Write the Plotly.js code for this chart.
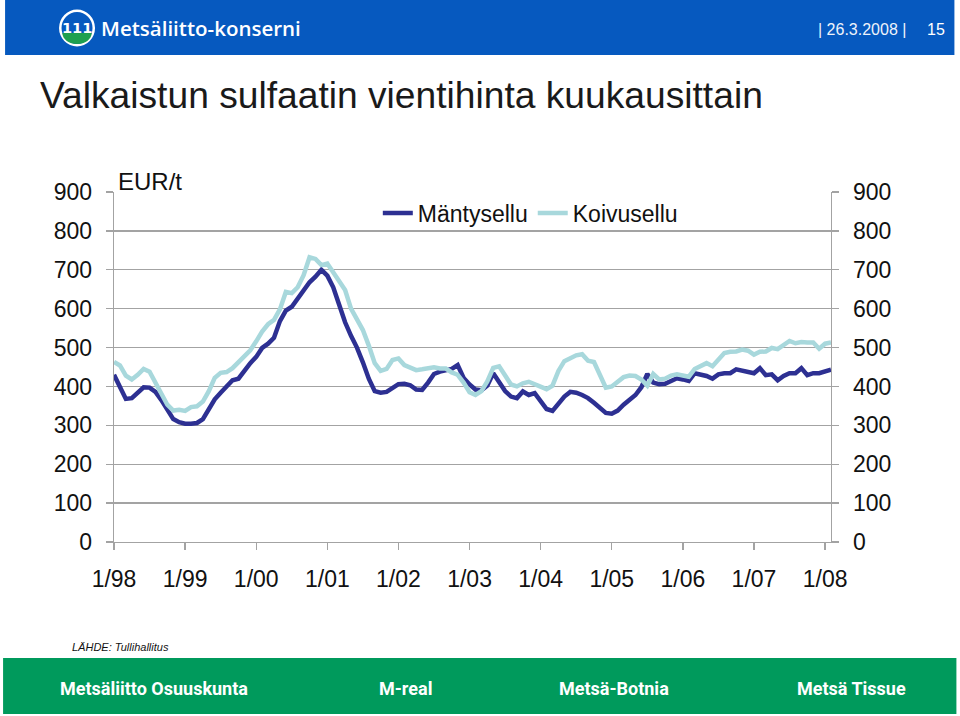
<!DOCTYPE html>
<html><head><meta charset="utf-8">
<script src="https://cdn.plot.ly/plotly-3.0.1.min.js"></script>
<style>html,body{margin:0;padding:0;background:#fff;} #chart{width:960px;height:716px;}</style>
</head><body><div id="chart"></div>
<script>
// Monthly export price, EUR/t, 1/1998 .. 2/2008
const mantysellu = [
 430,400,368,370,385,398,397,386,365,338,316,308,
 304,304,306,316,342,367,384,400,416,420,441,460,
 476,499,510,525,568,595,605,625,645,668,682,700,
 685,655,610,565,530,500,462,420,388,384,386,395,
 406,407,403,392,391,410,432,438,441,445,455,422,
 405,392,390,402,434,412,388,374,370,387,378,383,
 363,342,337,354,374,386,384,378,370,358,343,332,
 330,338,353,364,378,398,432,410,406,407,414,421,
 418,414,434,431,427,420,431,434,434,444,441,437,
 434,447,429,431,416,427,434,434,447,429,434,434,
 440,443];
const koivusellu = [
 463,454,428,418,430,445,438,411,381,353,338,340,
 337,347,349,361,388,422,435,437,447,462,476,493,
 516,541,560,571,598,643,640,655,686,732,728,712,
 716,693,672,648,600,573,545,505,460,440,445,468,
 472,455,447,442,444,447,449,446,446,436,430,410,
 385,378,388,413,448,452,428,405,400,408,412,405,
 398,393,402,440,465,472,480,483,466,463,430,397,
 400,412,424,428,427,418,402,432,418,420,428,431,
 428,425,445,453,460,452,470,486,489,490,495,492,
 482,489,490,499,496,505,517,511,514,513,513,497,
 510,513];
const yearCodes = ['98','99','00','01','02','03','04','05','06','07','08'];
const tickLabels = ['1/98','1/99','1/00','1/01','1/02','1/03','1/04','1/05','1/06','1/07','1/08'];
const seriesNames = ['Mäntysellu','Koivusellu'];
const footerNames = ['Metsäliitto Osuuskunta','M-real','Metsä-Botnia','Metsä Tissue'];

const months = [];
for (const yy of yearCodes) for (let m = 1; m <= 12; m++) if (months.length < mantysellu.length) months.push(m + '/' + yy);

// layout geometry (pixels)
const L = 114, R = 831.5, T = 192, B = 542, FW = 960, FH = 716;
const PX = x => (x - L) / (R - L);
const PY = y => (B - y) / (B - T);
const FONT = 'Liberation Sans, Arial, sans-serif';
const AXC = '#a3a3a3';
const FS = 23;

const traces = [
  {x: months, y: mantysellu, name: seriesNames[0], type: 'scatter', mode: 'lines',
   line: {color: '#2D3092', width: 4.5}, legendrank: 1, hoverinfo: 'skip'},
  {x: months, y: koivusellu, name: seriesNames[1], type: 'scatter', mode: 'lines',
   line: {color: '#A8D8DC', width: 4.5}, legendrank: 2, hoverinfo: 'skip'},
  {x: [], y: [], yaxis: 'y2', showlegend: false, hoverinfo: 'skip', type: 'scatter'}
];

function ann(text, x, y, size, opts) {
  return Object.assign({text: text, x: PX(x), y: PY(y), xref: 'paper', yref: 'paper',
    showarrow: false, xanchor: 'left', yanchor: 'middle',
    font: {size: size, family: FONT, color: '#111'}}, opts || {});
}

const annotations = [
  ann('Metsäliitto-konserni', 99, 28, 20, {font: {size: 20.5, family: 'Open Sans, sans-serif', color: '#fff', weight: 600}}),
  ann('111', 77, 28, 14, {xanchor: 'center', font: {size: 14.5, family: 'DejaVu Sans, sans-serif', color: '#fff', weight: 'bold'}}),
  ann('|\u00a026.3.2008\u00a0|', 863, 29, 16, {xanchor: 'center', font: {size: 16, family: FONT, color: '#eef3fb'}}),
  ann('15', 937, 29, 16, {xanchor: 'center', font: {size: 16, family: FONT, color: '#fff'}}),
  ann('EUR/t', 116, 181, 24),
  ann('<i>LÄHDE: Tullihallitus</i>', 70, 647, 11),
];
const footerX = [154, 406, 614, 852];
footerNames.forEach((n, i) => annotations.push(ann(n, footerX[i], 688, 17,
  {xanchor: 'center', font: {size: 18, family: 'Roboto, sans-serif', color: '#fff', weight: 'bold'}})));

const shapes = [
  {type: 'rect', xref: 'paper', yref: 'paper', x0: PX(5), x1: PX(955), y0: PY(55), y1: PY(0), fillcolor: '#0659BF', line: {width: 0}, layer: 'below'},
  {type: 'rect', xref: 'paper', yref: 'paper', x0: PX(3), x1: PX(957), y0: PY(714), y1: PY(658), fillcolor: '#009A5C', line: {width: 0}, layer: 'below'},
  {type: 'circle', xref: 'paper', yref: 'paper', x0: PX(59), x1: PX(95), y0: PY(46.5), y1: PY(9.5), fillcolor: '#ffffff', line: {width: 0}, layer: 'below'},
  {type: 'circle', xref: 'paper', yref: 'paper', x0: PX(61.5), x1: PX(92.5), y0: PY(44), y1: PY(12), fillcolor: '#0659BF', line: {width: 0}, layer: 'below'},
  {type: 'path', xref: 'paper', yref: 'paper', layer: 'below', fillcolor: '#1FA050', line: {width: 0},
   path: `M ${PX(62.3)},${PY(33)} L ${PX(91.7)},${PY(33)} C ${PX(91.5)},${PY(39.5)} ${PX(85)},${PY(44)} ${PX(77)},${PY(44)} C ${PX(69)},${PY(44)} ${PX(62.5)},${PY(39.5)} ${PX(62.3)},${PY(33)} Z`}
];

const axisCommon = {range: [0, 900], dtick: 100, tick0: 0, showline: true, linecolor: AXC, linewidth: 1.3,
  ticks: 'outside', ticklen: 7, tickcolor: AXC, tickwidth: 1.3, zeroline: false,
  tickfont: {size: FS, family: FONT, color: '#111'}, fixedrange: true};

const layout = {
  width: FW, height: FH,
  margin: {l: L, r: FW - R, t: T, b: FH - B, pad: 0},
  paper_bgcolor: '#fff', plot_bgcolor: '#fff',
  title: {text: 'Valkaistun sulfaatin vientihinta kuukausittain', xref: 'container', yref: 'container',
    x: 40 / FW, xanchor: 'left', y: 1 - 95 / FH, yanchor: 'middle',
    font: {size: 37.2, family: FONT, color: '#1a1a1a'}},
  xaxis: {type: 'category', range: [0, months.length - 1], tickmode: 'array', tickvals: tickLabels, ticktext: tickLabels,
    ticks: 'outside', ticklen: 7, tickcolor: AXC, tickwidth: 1.3, showline: true, linecolor: AXC, linewidth: 1.3,
    showgrid: false, zeroline: false, tickfont: {size: FS, family: FONT, color: '#111'}, ticklabelstandoff: 9, fixedrange: true},
  yaxis: Object.assign({}, axisCommon, {showgrid: true, gridcolor: AXC, gridwidth: 1.3, ticklabelstandoff: 9}),
  yaxis2: Object.assign({}, axisCommon, {overlaying: 'y', side: 'right', showgrid: false, ticklabelstandoff: 9}),
  showlegend: true,
  legend: {orientation: 'h', x: PX(378), xanchor: 'left', y: PY(213), yanchor: 'middle',
    font: {size: FS, family: FONT, color: '#111'}, bgcolor: 'rgba(0,0,0,0)', traceorder: 'normal'},
  annotations: annotations,
  shapes: shapes
};

Plotly.newPlot('chart', traces, layout, {displayModeBar: false, staticPlot: true});
</script>
</body></html>
